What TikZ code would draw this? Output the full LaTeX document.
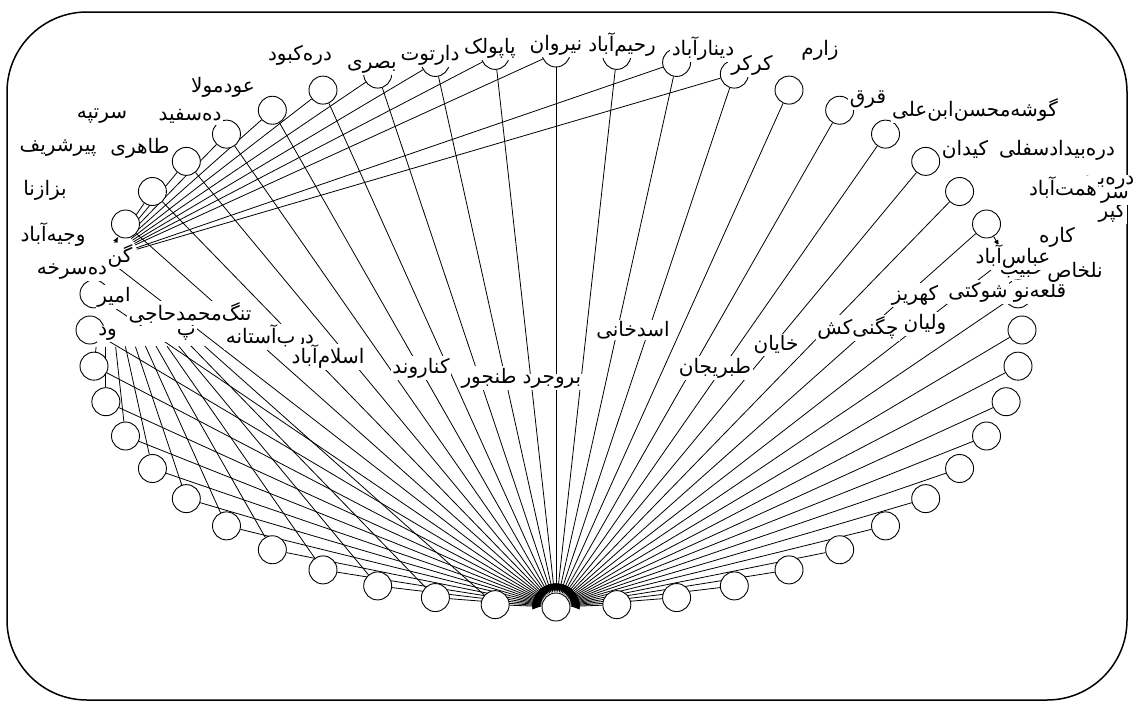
\documentclass[tikz,border=0pt]{standalone}
\usepackage{fontspec}
\usetikzlibrary{arrows.meta,backgrounds}
\TeXXeTstate=1
\newfontfamily\arabicfont[Script=Arabic]{DejaVu Sans}
\newcommand\fa[1]{{\arabicfont\beginR #1\endR}}
\newcommand\labfont{\arabicfont\fontsize{20}{22}\selectfont}
\tikzset{
  vtx/.style={circle, draw, fill=white, minimum size=28pt, inner sep=0pt, line width=0.9pt},
  hid/.style={circle, minimum size=28pt, inner sep=0pt},
  lab/.style={fill=white, inner sep=1.5pt, font=\labfont},
  spoke/.style={line width=0.8pt, -{Latex[length=9pt,width=7pt]}},
  plain/.style={line width=0.8pt},
  tip/.style={line width=0.8pt, -{Latex[length=6pt,width=5pt]}},
  frame/.style={line width=1.5pt, rounded corners=80pt}
}
\begin{document}
\begin{tikzpicture}[x=1pt,y=-1pt]
\useasboundingbox (0,0) rectangle (1134,704);
% positions on the ellipse
\foreach \k in {0,...,47} {
  \pgfmathsetmacro\t{90+7.5*\k}
  \coordinate (P\k) at ({556+466*cos(\t)},{330+277*sin(\t)});
}
\node[vtx] (H) at (P0) {};
\foreach \k in {1,...,13,15,16,...,33,35,36,...,47} {
  \node[vtx] (N\k) at (P\k) {};
}
\node[hid] (N14) at (P14) {};
\node[hid] (N34) at (P34) {};
\begin{pgfonlayer}{background}
\draw[frame] (7,12) rectangle (1127,700);
\foreach \k in {1,...,47} \draw[spoke] (N\k) -- (H);
\foreach \k/\d in {1/118,2/108,3/100,4/93,5/87,6/82,7/79,8/76,9/75,10/74,11/75}
  \draw[plain, shorten <=\d pt] (N14) -- (N\k);
\foreach \k in {16,...,24,26,27} \draw[plain, shorten <=18pt] (N14) -- (N\k);
\draw[tip] (N14) -- (N15);
\draw[tip] (N33) -- (N34);
\end{pgfonlayer}
% labels
\node[lab] (l1) at (300,55) {\fa{دره‌کبود}};
\node[lab] (l2) at (223,87) {\fa{عودمولا}};
\node[lab] (l3) at (102,116) {\fa{سرتپه}};
\node[lab] (l4) at (190,116) {\fa{ده‌سفید}};
\node[lab] (l5) at (58,148) {\fa{پیرشریف}};
\node[lab] (l6) at (140,148) {\fa{طاهری}};
\node[lab] (l7) at (45,190) {\fa{بزازنا}};
\node[lab] (l8) at (53,235) {\fa{وجیه‌آباد}};
\node[lab] (l9) at (120,256) {\fa{گن}};
\node[lab] (l10) at (72,272) {\fa{ده‌سرخه}};
\node[lab] (l11) at (114,297) {\fa{امیر}};
\node[lab] (l12) at (147,334) {\fa{پ\hspace{60pt}ود}};
\node[lab] (l13) at (190,313) {\fa{تنگ‌محمدحاجی}};
\node[lab] (l14) at (270,337) {\fa{درب‌آستانه}};
\node[lab] (l15) at (328,357) {\fa{اسلام‌آباد}};
\node[lab] (l16) at (421,368) {\fa{کناروند}};
\node[lab] (l17) at (489,378) {\fa{طنجور}};
\node[lab] (l18) at (552,382) {\fa{بروجرد}};
\node[lab] (l19) at (633,330) {\fa{اسدخانی}};
\node[lab] (l20) at (715,368) {\fa{طبریجان}};
\node[lab] (l21) at (776,345) {\fa{خایان}};
\node[lab] (l22) at (858,328) {\fa{چگنی‌کش}};
\node[lab] (l23) at (925,324) {\fa{ولیان}};
\node[lab] (l24) at (915,295) {\fa{کهریز}};
\node[lab] (l25) at (1022,272) {\fa{حبیب}};
\node[lab] (l26) at (1040,292) {\fa{قلعه‌نو}};
\node[lab] (l27) at (978,292) {\fa{شوکتی}};
\node[lab] (l28) at (1075,272) {\fa{نلخاص}};
\node[lab] (l29) at (1013,257) {\fa{عباس‌آباد}};
\node[lab] (l30) at (1057,237) {\fa{کاره}};
\node[lab, anchor=east] (l31) at (1127,212) {\fa{کپر}};
\node[lab] (l32) at (1115,197) {\fa{سر}};
\node[lab, anchor=east] (l33) at (1136,183) {\fa{دره‌بید}};
\node[lab] (l34) at (1063,188) {\fa{همت‌آباد}};
\node[lab] (l35) at (1057,150) {\fa{دره‌بیدادسفلی}};
\node[lab] (l36) at (965,150) {\fa{کیدان}};
\node[lab] (l37) at (975,110) {\fa{گوشه‌محسن‌ابن‌علی}};
\node[lab] (l38) at (868,100) {\fa{قرق}};
\node[lab] (l39) at (820,50) {\fa{زارم}};
\node[lab] (l40) at (752,65) {\fa{کرکر}};
\node[lab] (l41) at (703,49) {\fa{دینارآباد}};
\node[lab] (l42) at (622,45) {\fa{رحیم‌آباد}};
\node[lab] (l43) at (556,45) {\fa{نیروان}};
\node[lab] (l44) at (490,48) {\fa{پاپولک}};
\node[lab] (l45) at (430,55) {\fa{دارتوت}};
\node[lab] (l46) at (372,67) {\fa{بصری}};
\end{tikzpicture}
\end{document}
